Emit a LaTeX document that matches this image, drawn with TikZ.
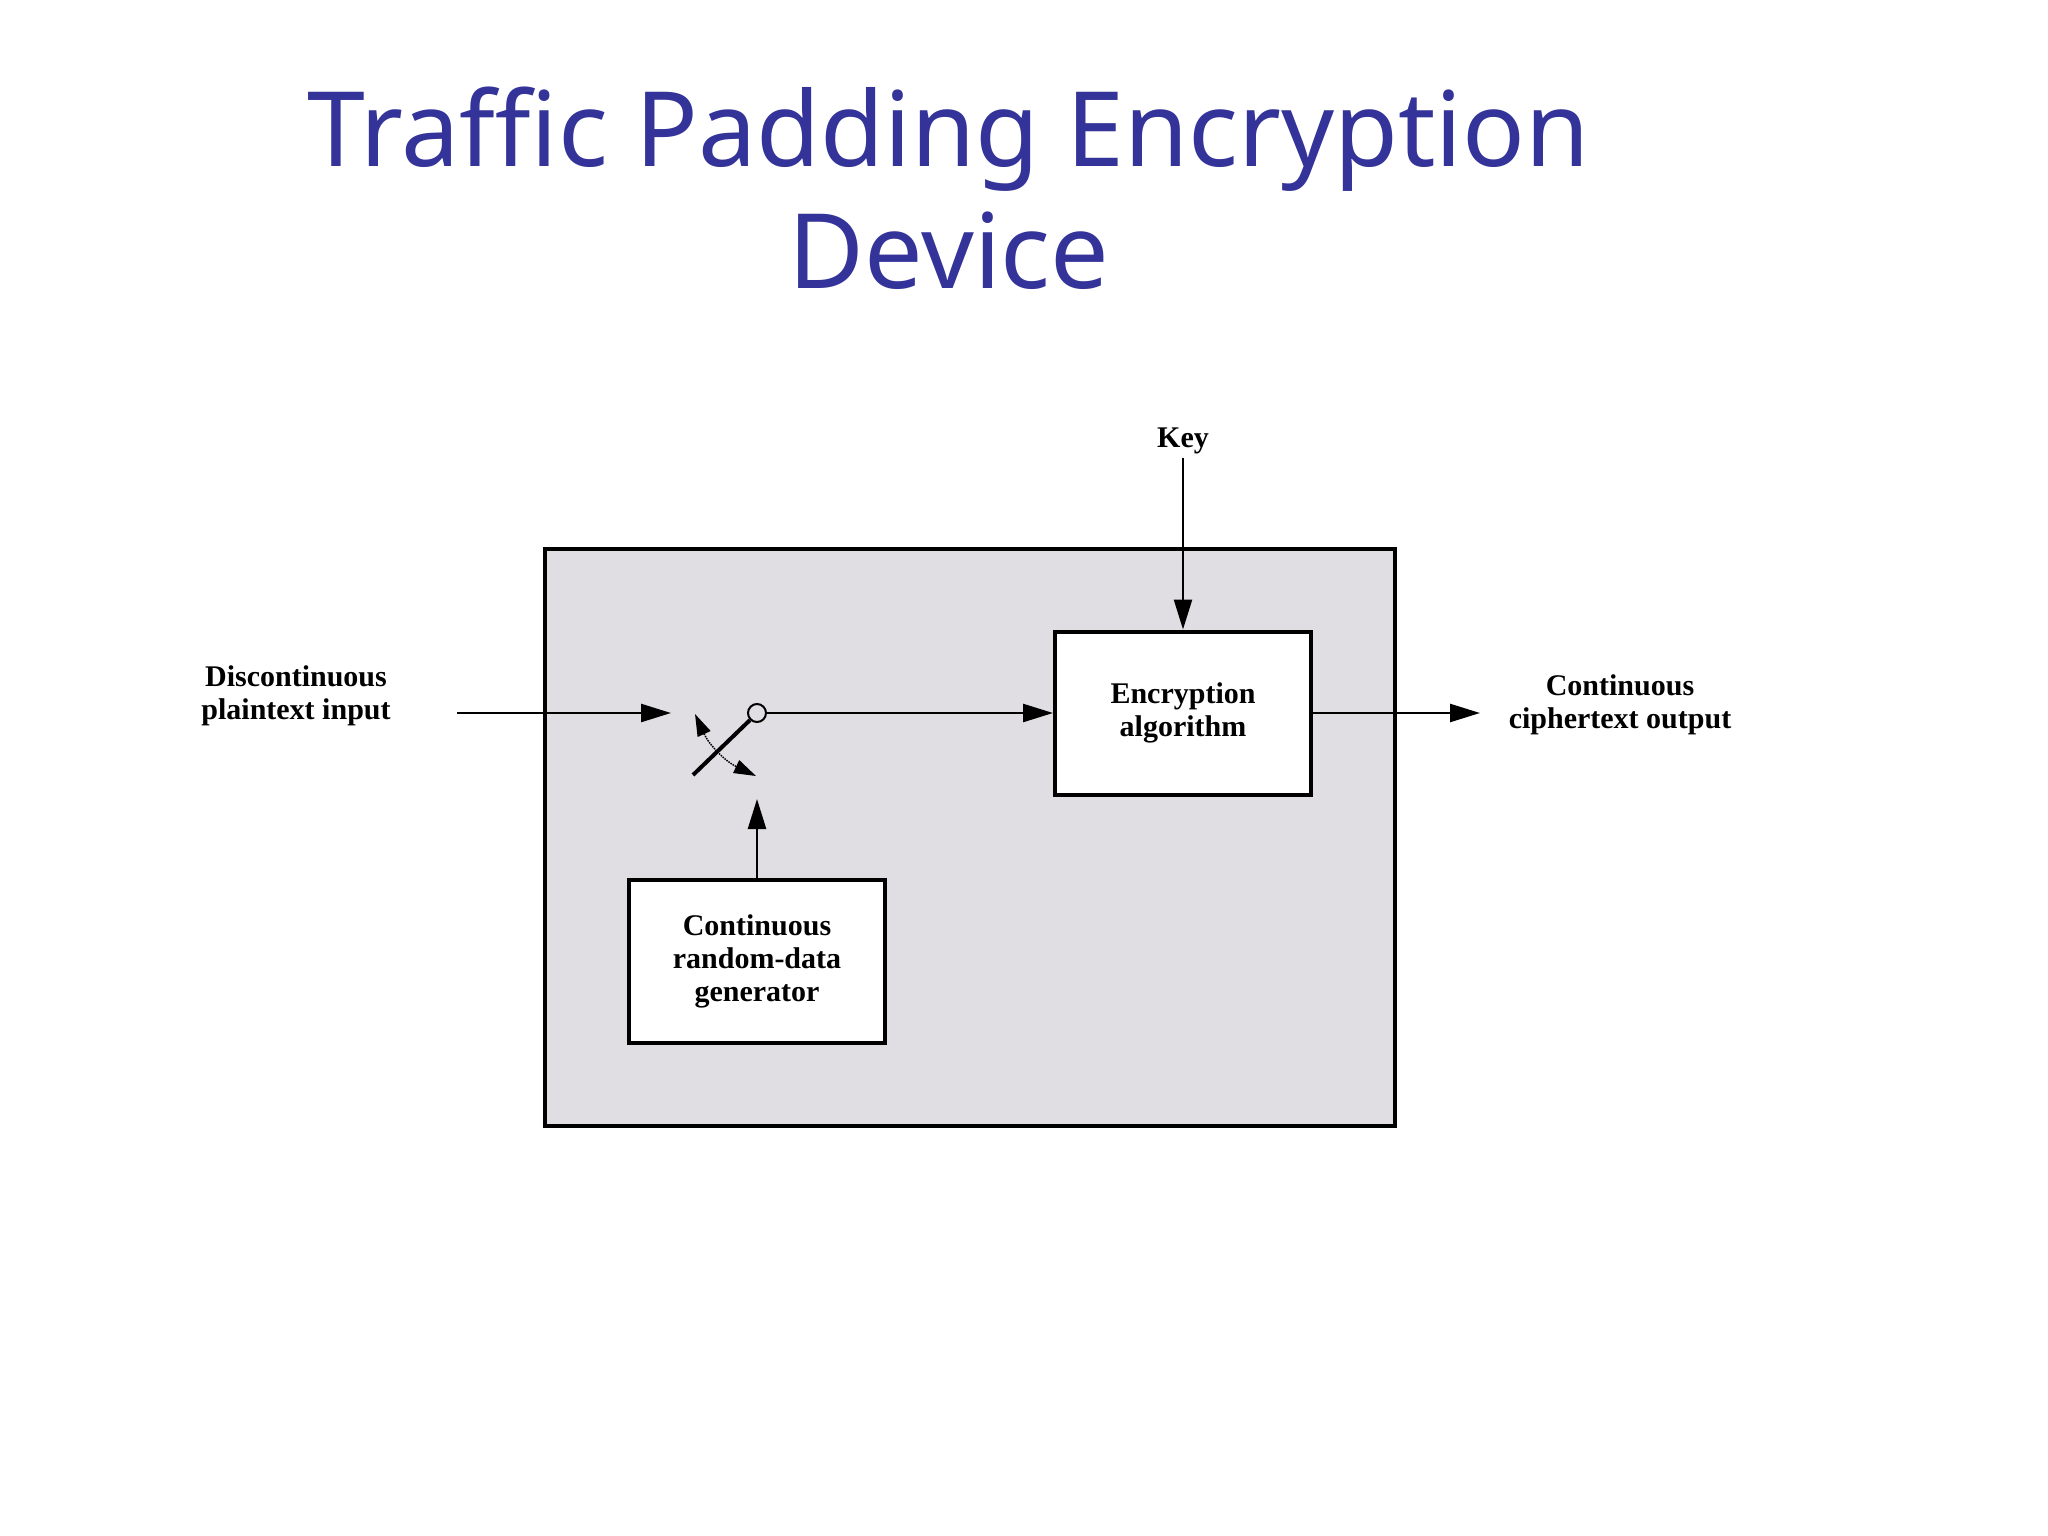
\documentclass[tikz,border=0pt]{standalone}
\usepackage{fontspec}
\setmainfont{Liberation Serif}
\newfontfamily\titlefont{Noto Sans}
\usetikzlibrary{arrows.meta}
\definecolor{titleblue}{RGB}{51,51,153}
\definecolor{boxgray}{RGB}{224,222,226}
\begin{document}
\begin{tikzpicture}[x=1pt,y=-1pt,
  box/.style={draw=black,line width=4pt,fill=white,minimum width=256pt,minimum height=163pt,align=center,font=\fontsize{30}{33}\selectfont\bfseries},
  lbl/.style={align=center,font=\fontsize{30}{33}\selectfont\bfseries},
  arr/.style={line width=2.5pt,-{Triangle[length=30pt,width=18pt]}}]
\useasboundingbox (0,0) rectangle (2048,1536);
\node[font=\titlefont\fontsize{104}{122}\selectfont,text=titleblue,align=center] (title) at (949,188) {Traffic Padding Encryption\\Device};
\draw[line width=4pt,fill=boxgray] (545,549) rectangle (1395,1126);
\node[box] (enc) at (1183,713) {Encryption\\algorithm};
\node[box] (gen) at (757,961) {Continuous\\random-data\\generator};
\node[lbl] (in) at (296,696) {Discontinuous\\plaintext input};
\node[lbl] (out) at (1620,705) {Continuous\\ciphertext output};
\node[lbl] (key) at (1183,441) {Key};
\coordinate (intip) at (671,713);
\coordinate (inst) at (457,713);
\node[circle,draw,line width=2pt,inner sep=0pt,minimum size=18pt] (sw) at (757,713) {};
\coordinate (lever) at (693,775);
\coordinate (gentip) at (757,799);
\coordinate (outtip) at (1480,713);
\draw[arr] (inst) -- (intip);
\draw[arr] (sw.east) -- (enc.west);
\draw[line width=4pt] (lever) -- (sw.south west);
\draw[line width=1.5pt,densely dotted,{Triangle[length=22pt,width=14pt]}-{Triangle[length=22pt,width=14pt]}] (695,714) to[bend right=20] (756,776);
\draw[arr] (gen.north) -- (gentip);
\draw[arr] (key.south) -- (enc.north);
\draw[arr] (enc.east) -- (outtip);
\end{tikzpicture}
\end{document}
